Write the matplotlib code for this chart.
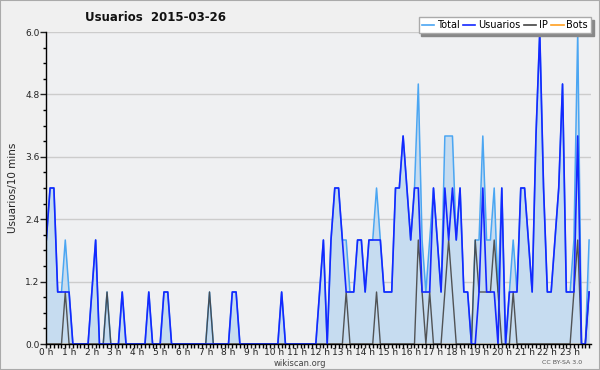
import numpy as np
import matplotlib
matplotlib.use("Agg")
import matplotlib.pyplot as plt
from matplotlib.lines import Line2D
from matplotlib.patches import Rectangle

# one row per hour, six 10-minute slots each
total = [
    2, 3, 3, 1, 1, 2,
    1, 0, 0, 0, 0, 0,
    1, 2, 0, 0, 1, 0,
    0, 0, 1, 0, 0, 0,
    0, 0, 0, 1, 0, 0,
    0, 1, 1, 0, 0, 0,
    0, 0, 0, 0, 0, 0,
    0, 1, 0, 0, 0, 0,
    0, 1, 1, 0, 0, 0,
    0, 0, 0, 0, 0, 0,
    0, 0, 1, 0, 0, 0,
    0, 0, 0, 0, 0, 0,
    1, 2, 0, 2, 3, 3,
    2, 2, 1, 1, 2, 2,
    1, 2, 2, 3, 2, 1,
    1, 1, 3, 3, 4, 3,
    2, 3, 5, 2, 1, 2,
    3, 2, 1, 4, 4, 4,
    2, 3, 1, 1, 0, 2,
    2, 4, 2, 2, 3, 1,
    3, 0, 1, 2, 1, 3,
    3, 2, 1, 4, 6, 3,
    1, 1, 2, 3, 5, 1,
    1, 2, 6, 0, 0, 2,
]
usuarios = [
    2, 3, 3, 1, 1, 1,
    1, 0, 0, 0, 0, 0,
    1, 2, 0, 0, 0, 0,
    0, 0, 1, 0, 0, 0,
    0, 0, 0, 1, 0, 0,
    0, 1, 1, 0, 0, 0,
    0, 0, 0, 0, 0, 0,
    0, 0, 0, 0, 0, 0,
    0, 1, 1, 0, 0, 0,
    0, 0, 0, 0, 0, 0,
    0, 0, 1, 0, 0, 0,
    0, 0, 0, 0, 0, 0,
    1, 2, 0, 2, 3, 3,
    2, 1, 1, 1, 2, 2,
    1, 2, 2, 2, 2, 1,
    1, 1, 3, 3, 4, 3,
    2, 3, 3, 1, 1, 1,
    3, 2, 1, 3, 2, 3,
    2, 3, 1, 1, 0, 0,
    1, 3, 1, 1, 1, 0,
    3, 0, 1, 1, 1, 3,
    3, 2, 1, 4, 6, 3,
    1, 1, 2, 3, 5, 1,
    1, 1, 4, 0, 0, 1,
]
ip = [
    0, 0, 0, 0, 0, 1,
    0, 0, 0, 0, 0, 0,
    0, 0, 0, 0, 1, 0,
    0, 0, 0, 0, 0, 0,
    0, 0, 0, 0, 0, 0,
    0, 0, 0, 0, 0, 0,
    0, 0, 0, 0, 0, 0,
    0, 1, 0, 0, 0, 0,
    0, 0, 0, 0, 0, 0,
    0, 0, 0, 0, 0, 0,
    0, 0, 0, 0, 0, 0,
    0, 0, 0, 0, 0, 0,
    0, 0, 0, 0, 0, 0,
    0, 1, 0, 0, 0, 0,
    0, 0, 0, 1, 0, 0,
    0, 0, 0, 0, 0, 0,
    0, 0, 2, 1, 0, 1,
    0, 0, 0, 1, 2, 1,
    0, 0, 0, 0, 0, 2,
    1, 1, 1, 1, 2, 1,
    0, 0, 0, 1, 0, 0,
    0, 0, 0, 0, 0, 0,
    0, 0, 0, 0, 0, 0,
    0, 1, 2, 0, 0, 1,
]
bots = [0] * 144
hour_labels = [f"{h} h" for h in range(24)]
yticks = [0.0, 1.2, 2.4, 3.6, 4.8, 6.0]

c_total = "#4ba6f2"
c_fill = "#c6dcf0"
c_user = "#1428ff"
c_ip = "#444444"
c_bots = "#ffa020"

fig = plt.figure(figsize=(6, 3.7), dpi=100, facecolor="#f0f0f0")
ax = fig.add_axes([46.3 / 600, 1 - 344 / 370, (591 - 46.3) / 600, 312 / 370])
ax.set_facecolor("#eff0f2")

x = np.arange(len(total))
ax.fill_between(x, total, 0, color=c_fill, lw=0, zorder=1)
ax.plot(x, bots, color=c_bots, lw=1, zorder=1.5)
ax.plot(x, total, color=c_total, lw=1.1, zorder=2)
ax.plot(x, ip, color=c_ip, lw=1, alpha=0.9, zorder=2.1)
ax.plot(x, usuarios, color=c_user, lw=1.2, zorder=2.2)

ax.set_xlim(0, 143.5)
ax.set_ylim(0, 6.0)
ax.set_yticks(yticks)
ax.set_yticklabels([f"{v:.1f}" for v in yticks])
ax.set_yticks(np.arange(0, 6.01, 0.3), minor=True)
ax.set_xticks(np.arange(0, 144, 6))
ax.set_xticklabels(hour_labels)
ax.set_xticks(np.arange(0, 144, 1), minor=True)
ax.grid(axis="y", color="#cccccc", lw=1, zorder=0)
ax.set_axisbelow(True)

for s in ["top", "right"]:
    ax.spines[s].set_visible(False)
for s in ["left", "bottom"]:
    ax.spines[s].set_color("black")
    ax.spines[s].set_linewidth(1)
    ax.spines[s].set_zorder(3)

ax.tick_params(axis="y", which="major", length=4, width=1, labelsize=6.5, pad=1, colors="#222222")
ax.tick_params(axis="y", which="minor", length=2, width=1)
ax.tick_params(axis="x", which="major", length=3, width=1, labelsize=6.5, pad=0, colors="#222222")
ax.tick_params(axis="x", which="minor", length=3, width=1)

ax.set_ylabel("Usuarios/10 mins", fontsize=7.5, color="#222222", labelpad=5)

fig.text(85 / 600, 1 - 17.5 / 370, "Usuarios  2015-03-26", fontsize=8.5,
         fontweight="bold", va="center", ha="left", color="#111111")
fig.text(300 / 600, 1 - 363.5 / 370, "wikiscan.org", fontsize=6,
         ha="center", va="center", color="#444444")
fig.text(562 / 600, 1 - 363 / 370, "CC BY-SA 3.0", fontsize=4.5,
         ha="center", va="center", color="#555555")

handles = [Line2D([], [], color=c_total, lw=1.2),
           Line2D([], [], color=c_user, lw=1.2),
           Line2D([], [], color=c_ip, lw=1.2),
           Line2D([], [], color=c_bots, lw=1.2)]
leg = fig.legend(handles, ["Total", "Usuarios", "IP", "Bots"], ncol=4,
                 loc="upper right", bbox_to_anchor=(591 / 600, 1 - 17.5 / 370),
                 fontsize=7, frameon=True, fancybox=False,
                 handlelength=1.3, handletextpad=0.3, columnspacing=0.3,
                 borderpad=0.3, borderaxespad=0,
                 shadow={"color": "#888888", "alpha": 1, "ox": 2, "oy": -2})
leg.get_frame().set_edgecolor("#aaaaaa")
leg.get_frame().set_facecolor("white")
leg.get_frame().set_linewidth(1)

fig.patches.append(Rectangle((0, 0), 1, 1, transform=fig.transFigure,
                             fill=False, edgecolor="#aaaaaa", lw=1.5))

fig.savefig("out.png", dpi=100, facecolor=fig.get_facecolor())
